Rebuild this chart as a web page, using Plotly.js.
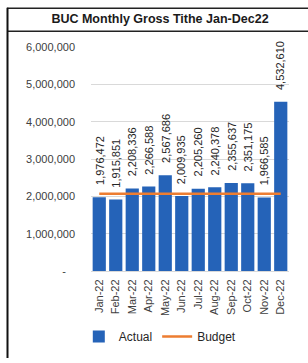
<!DOCTYPE html>
<html>
<head>
<meta charset="utf-8">
<script src="https://cdn.plot.ly/plotly-3.0.1.min.js"></script>
<style>
  html, body { margin: 0; padding: 0; background: #fff; }
  #chart { width: 308px; height: 363px; }
</style>
</head>
<body>
<div id="chart"></div>
<script>
const months = ["Jan-22","Feb-22","Mar-22","Apr-22","May-22","Jun-22","Jul-22","Aug-22","Sep-22","Oct-22","Nov-22","Dec-22"];
const actual = [1976472, 1915851, 2208336, 2266588, 2567686, 2009935, 2205260, 2240378, 2355637, 2351175, 1966585, 4532610];
const budget = [2070000, 2070000, 2070000, 2070000, 2070000, 2070000, 2070000, 2070000, 2070000, 2070000, 2070000, 2070000];
const yTickVals = [0, 1000000, 2000000, 3000000, 4000000, 5000000, 6000000];
const yTickText = ["-\u00a0\u00a0\u00a0", "1,000,000", "2,000,000", "3,000,000", "4,000,000", "5,000,000", "6,000,000"];
const titleText = "BUC Monthly Gross Tithe Jan-Dec22";

const W = 308, H = 363;
const L = 91, R = 19, T = 47, B = 87;
const pw = W - L - R, ph = H - T - B;
const px = x => (x - L) / pw;
const py = y => (H - B - y) / ph;

const font = "Liberation Sans, Arial, sans-serif";
const fmt = v => v.toLocaleString("en-US");

const traces = [
  {
    type: "bar", name: "Actual", x: months, y: actual,
    marker: { color: "#2563b8" },
    hoverinfo: "skip"
  },
  {
    type: "scatter", mode: "lines", name: "Budget", x: months, y: budget,
    line: { color: "#ED7D31", width: 2.5 },
    hoverinfo: "skip"
  }
];

const labelAnnotations = months.map((m, i) => ({
  x: m, y: actual[i], xref: "x", yref: "y",
  text: fmt(actual[i]), showarrow: false, textangle: -90,
  yanchor: "bottom", xanchor: "center", yshift: 10,
  font: { family: font, size: 11, color: "#262626" }
}));

const layout = {
  width: W, height: H,
  margin: { l: L, r: R, t: T, b: B, pad: 0 },
  paper_bgcolor: "#ffffff", plot_bgcolor: "#ffffff",
  font: { family: font, size: 11, color: "#404040" },
  bargap: 0.2,
  showlegend: true,
  legend: {
    orientation: "h", x: 0.35, xanchor: "center", y: py(343), yanchor: "middle",
    font: { family: font, size: 12, color: "#262626" },
    itemwidth: 30, tracegroupgap: 0
  },
  title: {
    text: "<b>" + titleText + "</b>",
    font: { family: font, size: 12.5, color: "#1a1a1a" },
    x: 160 / W, xanchor: "center", xref: "container",
    y: 1 - 19 / H, yanchor: "middle", yref: "container"
  },
  xaxis: {
    type: "category", tickangle: -90,
    tickfont: { family: font, size: 11, color: "#404040" },
    showgrid: false, showline: true, linecolor: "#d9d9d9", linewidth: 1,
    ticks: "", ticklabelstandoff: 3, fixedrange: true
  },
  yaxis: {
    range: [0, 6000000], tickvals: yTickVals, ticktext: yTickText,
    tickfont: { family: font, size: 11, color: "#404040" },
    showgrid: true, gridcolor: "#d9d9d9", gridwidth: 1,
    zeroline: false, showline: false, ticks: "", ticklabelstandoff: 15,
    fixedrange: true
  },
  annotations: labelAnnotations,
  shapes: [
    { type: "line", xref: "paper", yref: "paper", x0: px(7), x1: px(310), y0: py(7.5), y1: py(7.5), line: { color: "#222", width: 1.5 } },
    { type: "line", xref: "paper", yref: "paper", x0: px(7), x1: px(310), y0: py(31), y1: py(31), line: { color: "#222", width: 1.5 } },
    { type: "line", xref: "paper", yref: "paper", x0: px(7.5), x1: px(7.5), y0: py(7), y1: py(365), line: { color: "#111", width: 2 } }
  ]
};

Plotly.newPlot("chart", traces, layout, { displayModeBar: false, staticPlot: true });
</script>
</body>
</html>
